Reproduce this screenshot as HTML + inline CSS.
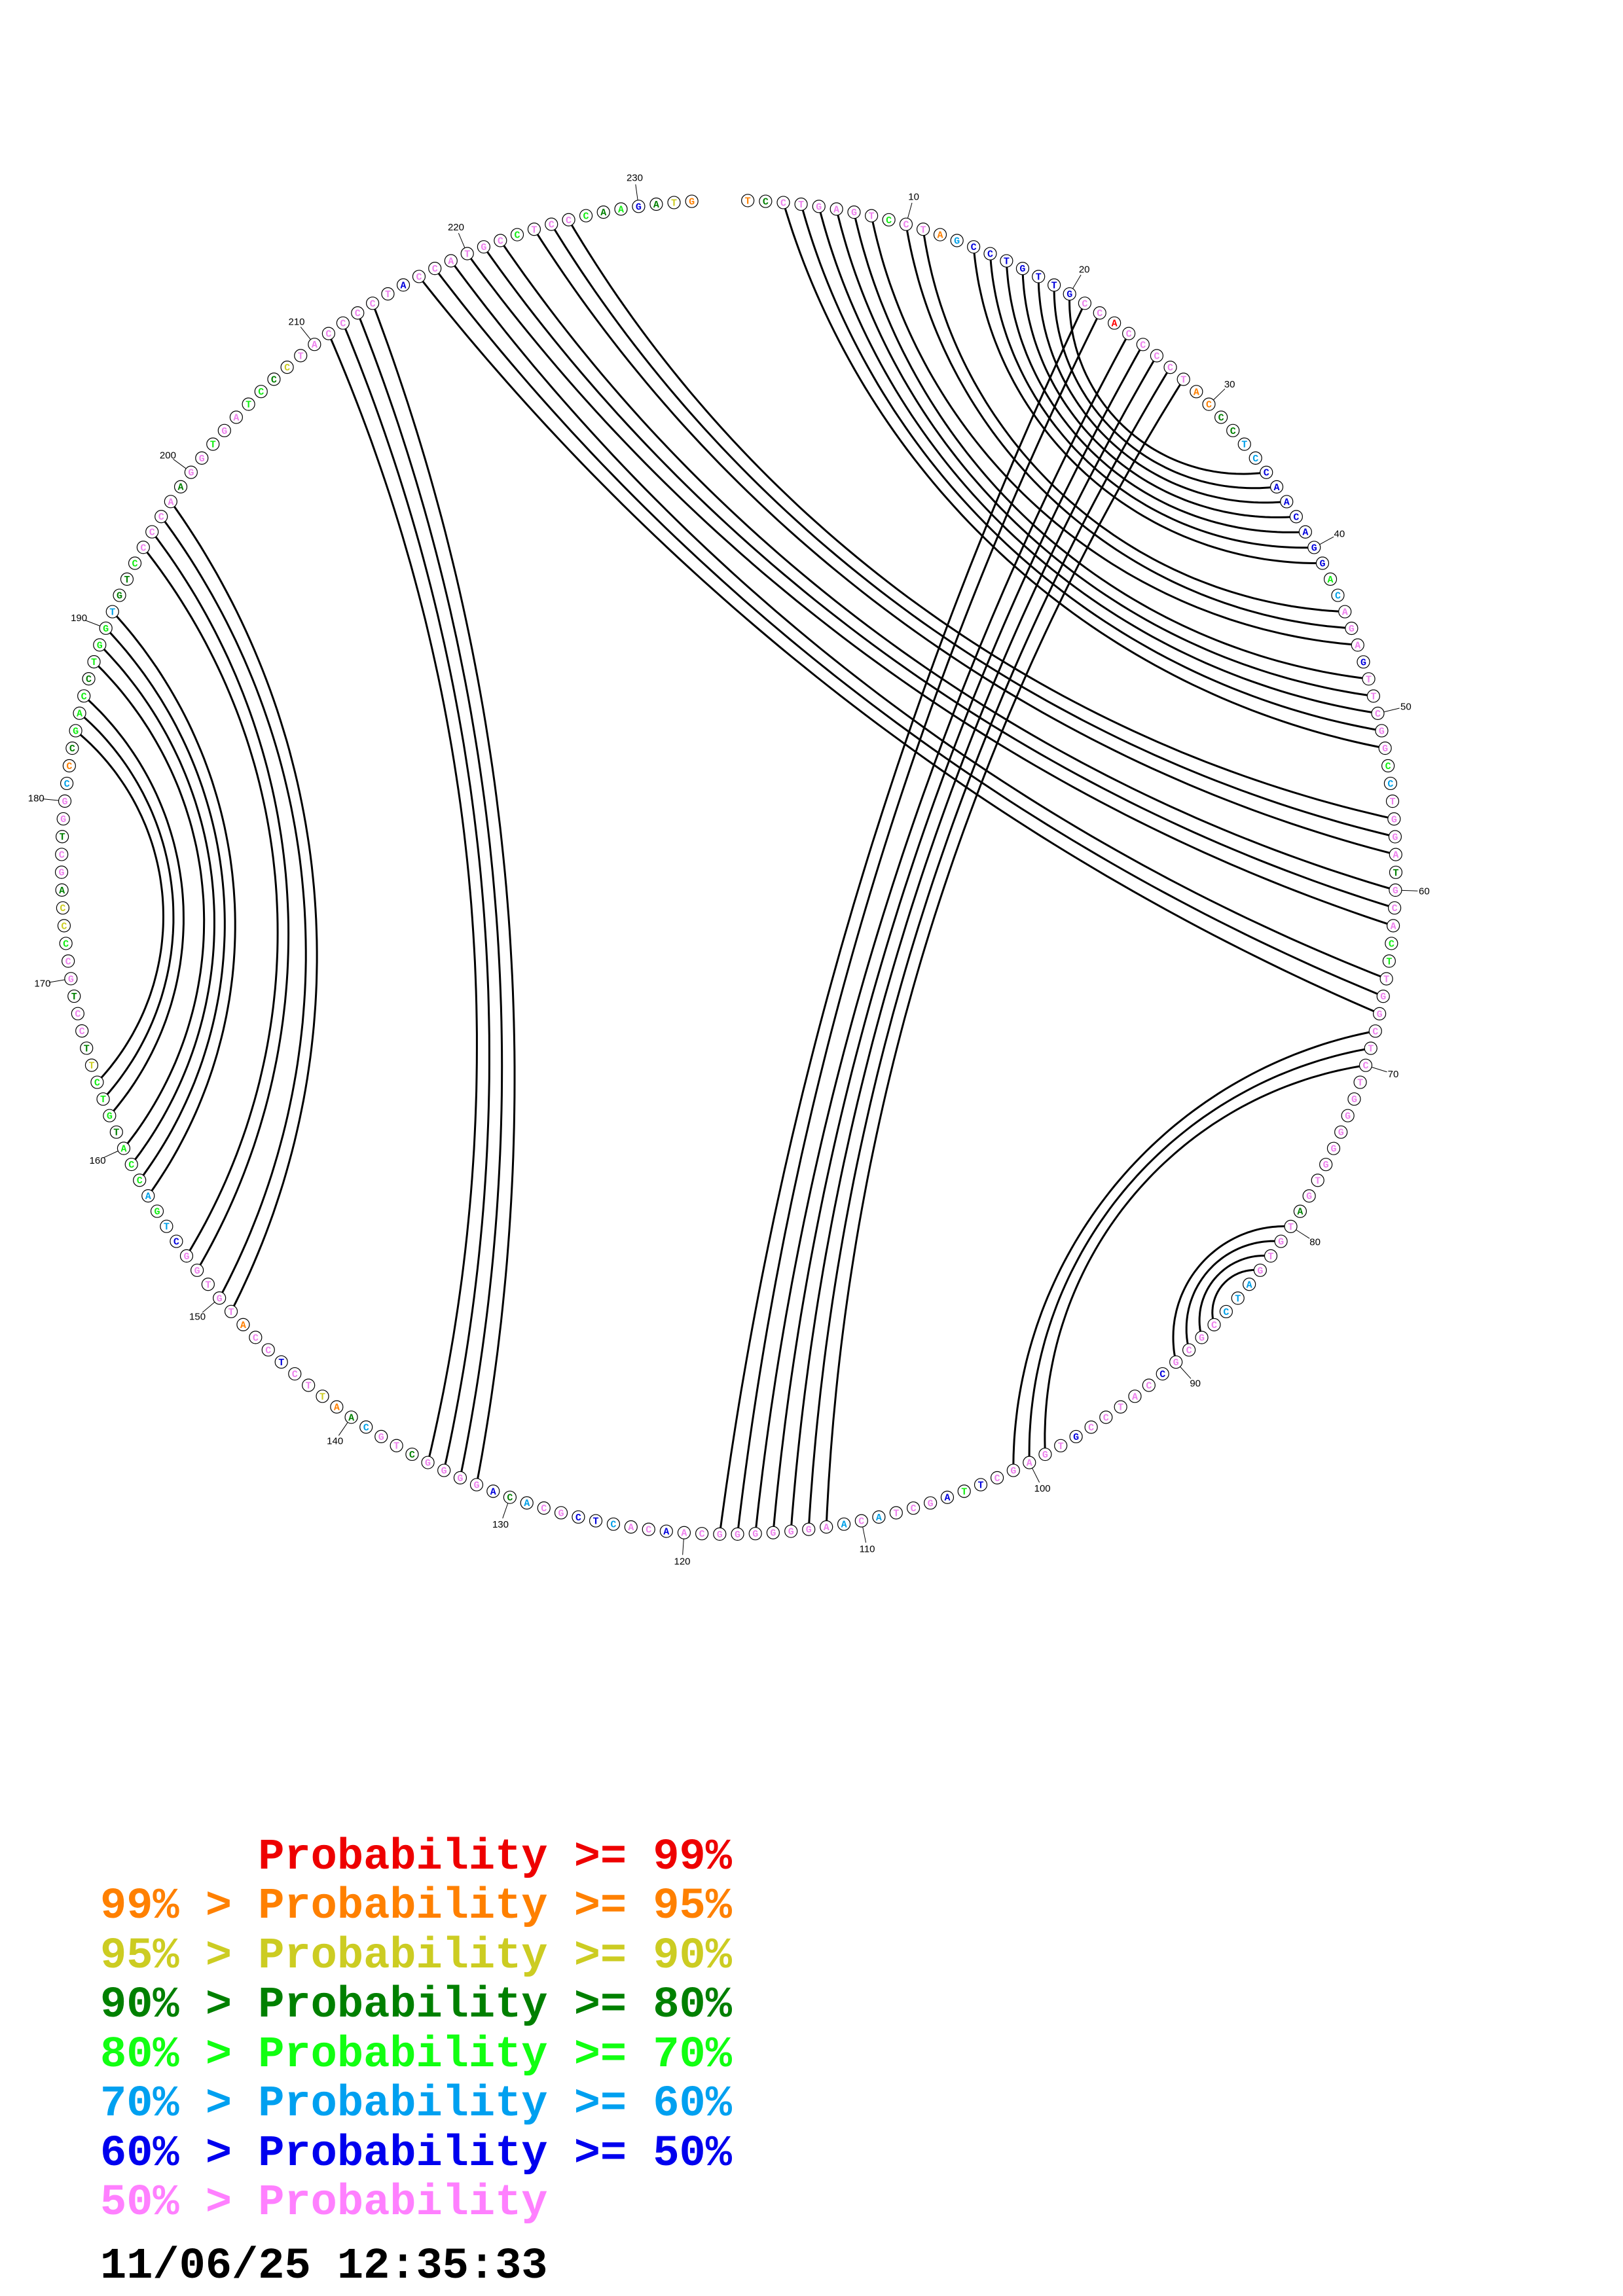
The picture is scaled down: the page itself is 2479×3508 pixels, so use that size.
<!DOCTYPE html>
<html><head><meta charset="utf-8">
<style>
html,body{margin:0;padding:0;background:#fff;}
svg{display:block;}
.n circle{fill:#fff;stroke:#000;stroke-width:1.2;}
.n text{font-family:"Liberation Mono",monospace;font-weight:bold;font-size:15px;text-anchor:middle;}
.p{fill:#ee82ee}.r{fill:#ff0000}.o{fill:#ff8000}.y{fill:#cccc22}.d{fill:#008000}.g{fill:#11ee11}.c{fill:#00a0e8}.b{fill:#0000dd}
.lb line{stroke:#000;stroke-width:1}
.lb text{font-family:"Liberation Sans",sans-serif;font-size:15px;text-anchor:middle;fill:#000}
.lg{font-family:"Liberation Mono",monospace;font-weight:bold;font-size:67px;white-space:pre;}
</style></head>
<body>
<svg width="2479" height="3508" viewBox="0 0 2479 3508" xmlns="http://www.w3.org/2000/svg">
<g id="arcs" fill="none" stroke="#000" stroke-width="3"></g>
<g class="n">
<g><!--k0 off 0-->
<g transform="rotate(1.64 1113 1325) translate(1113 306) rotate(-1.64)"><circle r="9.5"/><text y="5" class="o">T</text></g>
<g transform="rotate(3.17 1113 1325) translate(1113 306) rotate(-3.17)"><circle r="9.5"/><text y="5" class="d">C</text></g>
<g transform="rotate(4.70 1113 1325) translate(1113 306) rotate(-4.70)"><circle r="9.5"/><text y="5" class="p">C</text></g>
<g transform="rotate(6.23 1113 1325) translate(1113 306) rotate(-6.23)"><circle r="9.5"/><text y="5" class="p">T</text></g>
<g transform="rotate(7.77 1113 1325) translate(1113 306) rotate(-7.77)"><circle r="9.5"/><text y="5" class="p">G</text></g>
<g transform="rotate(9.30 1113 1325) translate(1113 306) rotate(-9.30)"><circle r="9.5"/><text y="5" class="p">A</text></g>
<g transform="rotate(10.83 1113 1325) translate(1113 306) rotate(-10.83)"><circle r="9.5"/><text y="5" class="p">G</text></g>
<g transform="rotate(12.36 1113 1325) translate(1113 306) rotate(-12.36)"><circle r="9.5"/><text y="5" class="p">T</text></g>
<g transform="rotate(13.89 1113 1325) translate(1113 306) rotate(-13.89)"><circle r="9.5"/><text y="5" class="g">C</text></g>
<g transform="rotate(15.42 1113 1325) translate(1113 306) rotate(-15.42)"><circle r="9.5"/><text y="5" class="p">C</text></g>
</g>
<g transform="rotate(15.31 1113 1325)">
<g transform="rotate(1.64 1113 1325) translate(1113 306) rotate(-1.64) rotate(-15.31)"><circle r="9.5"/><text y="5" class="p">T</text></g>
<g transform="rotate(3.17 1113 1325) translate(1113 306) rotate(-3.17) rotate(-15.31)"><circle r="9.5"/><text y="5" class="o">A</text></g>
<g transform="rotate(4.70 1113 1325) translate(1113 306) rotate(-4.70) rotate(-15.31)"><circle r="9.5"/><text y="5" class="c">G</text></g>
<g transform="rotate(6.23 1113 1325) translate(1113 306) rotate(-6.23) rotate(-15.31)"><circle r="9.5"/><text y="5" class="b">C</text></g>
<g transform="rotate(7.77 1113 1325) translate(1113 306) rotate(-7.77) rotate(-15.31)"><circle r="9.5"/><text y="5" class="b">C</text></g>
<g transform="rotate(9.30 1113 1325) translate(1113 306) rotate(-9.30) rotate(-15.31)"><circle r="9.5"/><text y="5" class="b">T</text></g>
<g transform="rotate(10.83 1113 1325) translate(1113 306) rotate(-10.83) rotate(-15.31)"><circle r="9.5"/><text y="5" class="b">G</text></g>
<g transform="rotate(12.36 1113 1325) translate(1113 306) rotate(-12.36) rotate(-15.31)"><circle r="9.5"/><text y="5" class="b">T</text></g>
<g transform="rotate(13.89 1113 1325) translate(1113 306) rotate(-13.89) rotate(-15.31)"><circle r="9.5"/><text y="5" class="b">T</text></g>
<g transform="rotate(15.42 1113 1325) translate(1113 306) rotate(-15.42) rotate(-15.31)"><circle r="9.5"/><text y="5" class="b">G</text></g>
</g>
<g transform="rotate(30.62 1113 1325)">
<g transform="rotate(1.64 1113 1325) translate(1113 306) rotate(-1.64) rotate(-30.62)"><circle r="9.5"/><text y="5" class="p">C</text></g>
<g transform="rotate(3.17 1113 1325) translate(1113 306) rotate(-3.17) rotate(-30.62)"><circle r="9.5"/><text y="5" class="p">C</text></g>
<g transform="rotate(4.70 1113 1325) translate(1113 306) rotate(-4.70) rotate(-30.62)"><circle r="9.5"/><text y="5" class="r">A</text></g>
<g transform="rotate(6.23 1113 1325) translate(1113 306) rotate(-6.23) rotate(-30.62)"><circle r="9.5"/><text y="5" class="p">C</text></g>
<g transform="rotate(7.77 1113 1325) translate(1113 306) rotate(-7.77) rotate(-30.62)"><circle r="9.5"/><text y="5" class="p">C</text></g>
<g transform="rotate(9.30 1113 1325) translate(1113 306) rotate(-9.30) rotate(-30.62)"><circle r="9.5"/><text y="5" class="p">C</text></g>
<g transform="rotate(10.83 1113 1325) translate(1113 306) rotate(-10.83) rotate(-30.62)"><circle r="9.5"/><text y="5" class="p">C</text></g>
<g transform="rotate(12.36 1113 1325) translate(1113 306) rotate(-12.36) rotate(-30.62)"><circle r="9.5"/><text y="5" class="p">T</text></g>
<g transform="rotate(13.89 1113 1325) translate(1113 306) rotate(-13.89) rotate(-30.62)"><circle r="9.5"/><text y="5" class="o">A</text></g>
<g transform="rotate(15.42 1113 1325) translate(1113 306) rotate(-15.42) rotate(-30.62)"><circle r="9.5"/><text y="5" class="o">C</text></g>
</g>
<g transform="rotate(45.93 1113 1325)">
<g transform="rotate(1.64 1113 1325) translate(1113 306) rotate(-1.64) rotate(-45.93)"><circle r="9.5"/><text y="5" class="d">C</text></g>
<g transform="rotate(3.17 1113 1325) translate(1113 306) rotate(-3.17) rotate(-45.93)"><circle r="9.5"/><text y="5" class="d">C</text></g>
<g transform="rotate(4.70 1113 1325) translate(1113 306) rotate(-4.70) rotate(-45.93)"><circle r="9.5"/><text y="5" class="c">T</text></g>
<g transform="rotate(6.23 1113 1325) translate(1113 306) rotate(-6.23) rotate(-45.93)"><circle r="9.5"/><text y="5" class="c">C</text></g>
<g transform="rotate(7.77 1113 1325) translate(1113 306) rotate(-7.77) rotate(-45.93)"><circle r="9.5"/><text y="5" class="b">C</text></g>
<g transform="rotate(9.30 1113 1325) translate(1113 306) rotate(-9.30) rotate(-45.93)"><circle r="9.5"/><text y="5" class="b">A</text></g>
<g transform="rotate(10.83 1113 1325) translate(1113 306) rotate(-10.83) rotate(-45.93)"><circle r="9.5"/><text y="5" class="b">A</text></g>
<g transform="rotate(12.36 1113 1325) translate(1113 306) rotate(-12.36) rotate(-45.93)"><circle r="9.5"/><text y="5" class="b">C</text></g>
<g transform="rotate(13.89 1113 1325) translate(1113 306) rotate(-13.89) rotate(-45.93)"><circle r="9.5"/><text y="5" class="b">A</text></g>
<g transform="rotate(15.42 1113 1325) translate(1113 306) rotate(-15.42) rotate(-45.93)"><circle r="9.5"/><text y="5" class="b">G</text></g>
</g>
<g transform="rotate(61.24 1113 1325)">
<g transform="rotate(1.64 1113 1325) translate(1113 306) rotate(-1.64) rotate(-61.24)"><circle r="9.5"/><text y="5" class="b">G</text></g>
<g transform="rotate(3.17 1113 1325) translate(1113 306) rotate(-3.17) rotate(-61.24)"><circle r="9.5"/><text y="5" class="g">A</text></g>
<g transform="rotate(4.70 1113 1325) translate(1113 306) rotate(-4.70) rotate(-61.24)"><circle r="9.5"/><text y="5" class="c">C</text></g>
<g transform="rotate(6.23 1113 1325) translate(1113 306) rotate(-6.23) rotate(-61.24)"><circle r="9.5"/><text y="5" class="p">A</text></g>
<g transform="rotate(7.77 1113 1325) translate(1113 306) rotate(-7.77) rotate(-61.24)"><circle r="9.5"/><text y="5" class="p">G</text></g>
<g transform="rotate(9.30 1113 1325) translate(1113 306) rotate(-9.30) rotate(-61.24)"><circle r="9.5"/><text y="5" class="p">A</text></g>
<g transform="rotate(10.83 1113 1325) translate(1113 306) rotate(-10.83) rotate(-61.24)"><circle r="9.5"/><text y="5" class="b">G</text></g>
<g transform="rotate(12.36 1113 1325) translate(1113 306) rotate(-12.36) rotate(-61.24)"><circle r="9.5"/><text y="5" class="p">T</text></g>
<g transform="rotate(13.89 1113 1325) translate(1113 306) rotate(-13.89) rotate(-61.24)"><circle r="9.5"/><text y="5" class="p">T</text></g>
<g transform="rotate(15.42 1113 1325) translate(1113 306) rotate(-15.42) rotate(-61.24)"><circle r="9.5"/><text y="5" class="p">C</text></g>
</g>
<g transform="rotate(76.55 1113 1325)">
<g transform="rotate(1.64 1113 1325) translate(1113 306) rotate(-1.64) rotate(-76.55)"><circle r="9.5"/><text y="5" class="p">G</text></g>
<g transform="rotate(3.17 1113 1325) translate(1113 306) rotate(-3.17) rotate(-76.55)"><circle r="9.5"/><text y="5" class="p">G</text></g>
<g transform="rotate(4.70 1113 1325) translate(1113 306) rotate(-4.70) rotate(-76.55)"><circle r="9.5"/><text y="5" class="g">C</text></g>
<g transform="rotate(6.23 1113 1325) translate(1113 306) rotate(-6.23) rotate(-76.55)"><circle r="9.5"/><text y="5" class="c">C</text></g>
<g transform="rotate(7.77 1113 1325) translate(1113 306) rotate(-7.77) rotate(-76.55)"><circle r="9.5"/><text y="5" class="p">T</text></g>
<g transform="rotate(9.30 1113 1325) translate(1113 306) rotate(-9.30) rotate(-76.55)"><circle r="9.5"/><text y="5" class="p">G</text></g>
<g transform="rotate(10.83 1113 1325) translate(1113 306) rotate(-10.83) rotate(-76.55)"><circle r="9.5"/><text y="5" class="p">G</text></g>
<g transform="rotate(12.36 1113 1325) translate(1113 306) rotate(-12.36) rotate(-76.55)"><circle r="9.5"/><text y="5" class="p">A</text></g>
<g transform="rotate(13.89 1113 1325) translate(1113 306) rotate(-13.89) rotate(-76.55)"><circle r="9.5"/><text y="5" class="d">T</text></g>
<g transform="rotate(15.42 1113 1325) translate(1113 306) rotate(-15.42) rotate(-76.55)"><circle r="9.5"/><text y="5" class="p">G</text></g>
</g>
<g transform="rotate(91.86 1113 1325)">
<g transform="rotate(1.64 1113 1325) translate(1113 306) rotate(-1.64) rotate(-91.86)"><circle r="9.5"/><text y="5" class="p">C</text></g>
<g transform="rotate(3.17 1113 1325) translate(1113 306) rotate(-3.17) rotate(-91.86)"><circle r="9.5"/><text y="5" class="p">A</text></g>
<g transform="rotate(4.70 1113 1325) translate(1113 306) rotate(-4.70) rotate(-91.86)"><circle r="9.5"/><text y="5" class="g">C</text></g>
<g transform="rotate(6.23 1113 1325) translate(1113 306) rotate(-6.23) rotate(-91.86)"><circle r="9.5"/><text y="5" class="g">T</text></g>
<g transform="rotate(7.77 1113 1325) translate(1113 306) rotate(-7.77) rotate(-91.86)"><circle r="9.5"/><text y="5" class="p">T</text></g>
<g transform="rotate(9.30 1113 1325) translate(1113 306) rotate(-9.30) rotate(-91.86)"><circle r="9.5"/><text y="5" class="p">G</text></g>
<g transform="rotate(10.83 1113 1325) translate(1113 306) rotate(-10.83) rotate(-91.86)"><circle r="9.5"/><text y="5" class="p">G</text></g>
<g transform="rotate(12.36 1113 1325) translate(1113 306) rotate(-12.36) rotate(-91.86)"><circle r="9.5"/><text y="5" class="p">C</text></g>
<g transform="rotate(13.89 1113 1325) translate(1113 306) rotate(-13.89) rotate(-91.86)"><circle r="9.5"/><text y="5" class="p">T</text></g>
<g transform="rotate(15.42 1113 1325) translate(1113 306) rotate(-15.42) rotate(-91.86)"><circle r="9.5"/><text y="5" class="p">C</text></g>
</g>
<g transform="rotate(107.17 1113 1325)">
<g transform="rotate(1.64 1113 1325) translate(1113 306) rotate(-1.64) rotate(-107.17)"><circle r="9.5"/><text y="5" class="p">T</text></g>
<g transform="rotate(3.17 1113 1325) translate(1113 306) rotate(-3.17) rotate(-107.17)"><circle r="9.5"/><text y="5" class="p">G</text></g>
<g transform="rotate(4.70 1113 1325) translate(1113 306) rotate(-4.70) rotate(-107.17)"><circle r="9.5"/><text y="5" class="p">G</text></g>
<g transform="rotate(6.23 1113 1325) translate(1113 306) rotate(-6.23) rotate(-107.17)"><circle r="9.5"/><text y="5" class="p">G</text></g>
<g transform="rotate(7.77 1113 1325) translate(1113 306) rotate(-7.77) rotate(-107.17)"><circle r="9.5"/><text y="5" class="p">G</text></g>
<g transform="rotate(9.30 1113 1325) translate(1113 306) rotate(-9.30) rotate(-107.17)"><circle r="9.5"/><text y="5" class="p">G</text></g>
<g transform="rotate(10.83 1113 1325) translate(1113 306) rotate(-10.83) rotate(-107.17)"><circle r="9.5"/><text y="5" class="p">T</text></g>
<g transform="rotate(12.36 1113 1325) translate(1113 306) rotate(-12.36) rotate(-107.17)"><circle r="9.5"/><text y="5" class="p">G</text></g>
<g transform="rotate(13.89 1113 1325) translate(1113 306) rotate(-13.89) rotate(-107.17)"><circle r="9.5"/><text y="5" class="d">A</text></g>
<g transform="rotate(15.42 1113 1325) translate(1113 306) rotate(-15.42) rotate(-107.17)"><circle r="9.5"/><text y="5" class="p">T</text></g>
</g>
<g transform="rotate(122.48 1113 1325)">
<g transform="rotate(1.64 1113 1325) translate(1113 306) rotate(-1.64) rotate(-122.48)"><circle r="9.5"/><text y="5" class="p">G</text></g>
<g transform="rotate(3.17 1113 1325) translate(1113 306) rotate(-3.17) rotate(-122.48)"><circle r="9.5"/><text y="5" class="p">T</text></g>
<g transform="rotate(4.70 1113 1325) translate(1113 306) rotate(-4.70) rotate(-122.48)"><circle r="9.5"/><text y="5" class="p">G</text></g>
<g transform="rotate(6.23 1113 1325) translate(1113 306) rotate(-6.23) rotate(-122.48)"><circle r="9.5"/><text y="5" class="c">A</text></g>
<g transform="rotate(7.77 1113 1325) translate(1113 306) rotate(-7.77) rotate(-122.48)"><circle r="9.5"/><text y="5" class="c">T</text></g>
<g transform="rotate(9.30 1113 1325) translate(1113 306) rotate(-9.30) rotate(-122.48)"><circle r="9.5"/><text y="5" class="c">C</text></g>
<g transform="rotate(10.83 1113 1325) translate(1113 306) rotate(-10.83) rotate(-122.48)"><circle r="9.5"/><text y="5" class="p">C</text></g>
<g transform="rotate(12.36 1113 1325) translate(1113 306) rotate(-12.36) rotate(-122.48)"><circle r="9.5"/><text y="5" class="p">G</text></g>
<g transform="rotate(13.89 1113 1325) translate(1113 306) rotate(-13.89) rotate(-122.48)"><circle r="9.5"/><text y="5" class="p">C</text></g>
<g transform="rotate(15.42 1113 1325) translate(1113 306) rotate(-15.42) rotate(-122.48)"><circle r="9.5"/><text y="5" class="p">G</text></g>
</g>
<g transform="rotate(137.79 1113 1325)">
<g transform="rotate(1.64 1113 1325) translate(1113 306) rotate(-1.64) rotate(-137.79)"><circle r="9.5"/><text y="5" class="b">C</text></g>
<g transform="rotate(3.17 1113 1325) translate(1113 306) rotate(-3.17) rotate(-137.79)"><circle r="9.5"/><text y="5" class="p">C</text></g>
<g transform="rotate(4.70 1113 1325) translate(1113 306) rotate(-4.70) rotate(-137.79)"><circle r="9.5"/><text y="5" class="p">A</text></g>
<g transform="rotate(6.23 1113 1325) translate(1113 306) rotate(-6.23) rotate(-137.79)"><circle r="9.5"/><text y="5" class="p">T</text></g>
<g transform="rotate(7.77 1113 1325) translate(1113 306) rotate(-7.77) rotate(-137.79)"><circle r="9.5"/><text y="5" class="p">C</text></g>
<g transform="rotate(9.30 1113 1325) translate(1113 306) rotate(-9.30) rotate(-137.79)"><circle r="9.5"/><text y="5" class="p">C</text></g>
<g transform="rotate(10.83 1113 1325) translate(1113 306) rotate(-10.83) rotate(-137.79)"><circle r="9.5"/><text y="5" class="b">G</text></g>
<g transform="rotate(12.36 1113 1325) translate(1113 306) rotate(-12.36) rotate(-137.79)"><circle r="9.5"/><text y="5" class="p">T</text></g>
<g transform="rotate(13.89 1113 1325) translate(1113 306) rotate(-13.89) rotate(-137.79)"><circle r="9.5"/><text y="5" class="p">G</text></g>
<g transform="rotate(15.42 1113 1325) translate(1113 306) rotate(-15.42) rotate(-137.79)"><circle r="9.5"/><text y="5" class="p">A</text></g>
</g>
<g transform="rotate(153.10 1113 1325)">
<g transform="rotate(1.64 1113 1325) translate(1113 306) rotate(-1.64) rotate(-153.10)"><circle r="9.5"/><text y="5" class="p">G</text></g>
<g transform="rotate(3.17 1113 1325) translate(1113 306) rotate(-3.17) rotate(-153.10)"><circle r="9.5"/><text y="5" class="p">C</text></g>
<g transform="rotate(4.70 1113 1325) translate(1113 306) rotate(-4.70) rotate(-153.10)"><circle r="9.5"/><text y="5" class="b">T</text></g>
<g transform="rotate(6.23 1113 1325) translate(1113 306) rotate(-6.23) rotate(-153.10)"><circle r="9.5"/><text y="5" class="g">T</text></g>
<g transform="rotate(7.77 1113 1325) translate(1113 306) rotate(-7.77) rotate(-153.10)"><circle r="9.5"/><text y="5" class="b">A</text></g>
<g transform="rotate(9.30 1113 1325) translate(1113 306) rotate(-9.30) rotate(-153.10)"><circle r="9.5"/><text y="5" class="p">G</text></g>
<g transform="rotate(10.83 1113 1325) translate(1113 306) rotate(-10.83) rotate(-153.10)"><circle r="9.5"/><text y="5" class="p">C</text></g>
<g transform="rotate(12.36 1113 1325) translate(1113 306) rotate(-12.36) rotate(-153.10)"><circle r="9.5"/><text y="5" class="p">T</text></g>
<g transform="rotate(13.89 1113 1325) translate(1113 306) rotate(-13.89) rotate(-153.10)"><circle r="9.5"/><text y="5" class="c">A</text></g>
<g transform="rotate(15.42 1113 1325) translate(1113 306) rotate(-15.42) rotate(-153.10)"><circle r="9.5"/><text y="5" class="p">C</text></g>
</g>
<g transform="rotate(168.41 1113 1325)">
<g transform="rotate(1.64 1113 1325) translate(1113 306) rotate(-1.64) rotate(-168.41)"><circle r="9.5"/><text y="5" class="c">A</text></g>
<g transform="rotate(3.17 1113 1325) translate(1113 306) rotate(-3.17) rotate(-168.41)"><circle r="9.5"/><text y="5" class="p">A</text></g>
<g transform="rotate(4.70 1113 1325) translate(1113 306) rotate(-4.70) rotate(-168.41)"><circle r="9.5"/><text y="5" class="p">G</text></g>
<g transform="rotate(6.23 1113 1325) translate(1113 306) rotate(-6.23) rotate(-168.41)"><circle r="9.5"/><text y="5" class="p">G</text></g>
<g transform="rotate(7.77 1113 1325) translate(1113 306) rotate(-7.77) rotate(-168.41)"><circle r="9.5"/><text y="5" class="p">G</text></g>
<g transform="rotate(9.30 1113 1325) translate(1113 306) rotate(-9.30) rotate(-168.41)"><circle r="9.5"/><text y="5" class="p">G</text></g>
<g transform="rotate(10.83 1113 1325) translate(1113 306) rotate(-10.83) rotate(-168.41)"><circle r="9.5"/><text y="5" class="p">G</text></g>
<g transform="rotate(12.36 1113 1325) translate(1113 306) rotate(-12.36) rotate(-168.41)"><circle r="9.5"/><text y="5" class="p">G</text></g>
<g transform="rotate(13.89 1113 1325) translate(1113 306) rotate(-13.89) rotate(-168.41)"><circle r="9.5"/><text y="5" class="p">C</text></g>
<g transform="rotate(15.42 1113 1325) translate(1113 306) rotate(-15.42) rotate(-168.41)"><circle r="9.5"/><text y="5" class="p">A</text></g>
</g>
<g transform="rotate(183.72 1113 1325)">
<g transform="rotate(1.64 1113 1325) translate(1113 306) rotate(-1.64) rotate(-183.72)"><circle r="9.5"/><text y="5" class="b">A</text></g>
<g transform="rotate(3.17 1113 1325) translate(1113 306) rotate(-3.17) rotate(-183.72)"><circle r="9.5"/><text y="5" class="p">C</text></g>
<g transform="rotate(4.70 1113 1325) translate(1113 306) rotate(-4.70) rotate(-183.72)"><circle r="9.5"/><text y="5" class="p">A</text></g>
<g transform="rotate(6.23 1113 1325) translate(1113 306) rotate(-6.23) rotate(-183.72)"><circle r="9.5"/><text y="5" class="c">C</text></g>
<g transform="rotate(7.77 1113 1325) translate(1113 306) rotate(-7.77) rotate(-183.72)"><circle r="9.5"/><text y="5" class="b">T</text></g>
<g transform="rotate(9.30 1113 1325) translate(1113 306) rotate(-9.30) rotate(-183.72)"><circle r="9.5"/><text y="5" class="b">C</text></g>
<g transform="rotate(10.83 1113 1325) translate(1113 306) rotate(-10.83) rotate(-183.72)"><circle r="9.5"/><text y="5" class="p">G</text></g>
<g transform="rotate(12.36 1113 1325) translate(1113 306) rotate(-12.36) rotate(-183.72)"><circle r="9.5"/><text y="5" class="p">C</text></g>
<g transform="rotate(13.89 1113 1325) translate(1113 306) rotate(-13.89) rotate(-183.72)"><circle r="9.5"/><text y="5" class="c">A</text></g>
<g transform="rotate(15.42 1113 1325) translate(1113 306) rotate(-15.42) rotate(-183.72)"><circle r="9.5"/><text y="5" class="d">C</text></g>
</g>
<g transform="rotate(199.03 1113 1325)">
<g transform="rotate(1.64 1113 1325) translate(1113 306) rotate(-1.64) rotate(-199.03)"><circle r="9.5"/><text y="5" class="b">A</text></g>
<g transform="rotate(3.17 1113 1325) translate(1113 306) rotate(-3.17) rotate(-199.03)"><circle r="9.5"/><text y="5" class="p">G</text></g>
<g transform="rotate(4.70 1113 1325) translate(1113 306) rotate(-4.70) rotate(-199.03)"><circle r="9.5"/><text y="5" class="p">G</text></g>
<g transform="rotate(6.23 1113 1325) translate(1113 306) rotate(-6.23) rotate(-199.03)"><circle r="9.5"/><text y="5" class="p">G</text></g>
<g transform="rotate(7.77 1113 1325) translate(1113 306) rotate(-7.77) rotate(-199.03)"><circle r="9.5"/><text y="5" class="p">G</text></g>
<g transform="rotate(9.30 1113 1325) translate(1113 306) rotate(-9.30) rotate(-199.03)"><circle r="9.5"/><text y="5" class="d">C</text></g>
<g transform="rotate(10.83 1113 1325) translate(1113 306) rotate(-10.83) rotate(-199.03)"><circle r="9.5"/><text y="5" class="p">T</text></g>
<g transform="rotate(12.36 1113 1325) translate(1113 306) rotate(-12.36) rotate(-199.03)"><circle r="9.5"/><text y="5" class="p">G</text></g>
<g transform="rotate(13.89 1113 1325) translate(1113 306) rotate(-13.89) rotate(-199.03)"><circle r="9.5"/><text y="5" class="c">C</text></g>
<g transform="rotate(15.42 1113 1325) translate(1113 306) rotate(-15.42) rotate(-199.03)"><circle r="9.5"/><text y="5" class="d">A</text></g>
</g>
<g transform="rotate(214.34 1113 1325)">
<g transform="rotate(1.64 1113 1325) translate(1113 306) rotate(-1.64) rotate(-214.34)"><circle r="9.5"/><text y="5" class="o">A</text></g>
<g transform="rotate(3.17 1113 1325) translate(1113 306) rotate(-3.17) rotate(-214.34)"><circle r="9.5"/><text y="5" class="y">T</text></g>
<g transform="rotate(4.70 1113 1325) translate(1113 306) rotate(-4.70) rotate(-214.34)"><circle r="9.5"/><text y="5" class="p">T</text></g>
<g transform="rotate(6.23 1113 1325) translate(1113 306) rotate(-6.23) rotate(-214.34)"><circle r="9.5"/><text y="5" class="p">C</text></g>
<g transform="rotate(7.77 1113 1325) translate(1113 306) rotate(-7.77) rotate(-214.34)"><circle r="9.5"/><text y="5" class="b">T</text></g>
<g transform="rotate(9.30 1113 1325) translate(1113 306) rotate(-9.30) rotate(-214.34)"><circle r="9.5"/><text y="5" class="p">C</text></g>
<g transform="rotate(10.83 1113 1325) translate(1113 306) rotate(-10.83) rotate(-214.34)"><circle r="9.5"/><text y="5" class="p">C</text></g>
<g transform="rotate(12.36 1113 1325) translate(1113 306) rotate(-12.36) rotate(-214.34)"><circle r="9.5"/><text y="5" class="o">A</text></g>
<g transform="rotate(13.89 1113 1325) translate(1113 306) rotate(-13.89) rotate(-214.34)"><circle r="9.5"/><text y="5" class="p">T</text></g>
<g transform="rotate(15.42 1113 1325) translate(1113 306) rotate(-15.42) rotate(-214.34)"><circle r="9.5"/><text y="5" class="p">G</text></g>
</g>
<g transform="rotate(229.65 1113 1325)">
<g transform="rotate(1.64 1113 1325) translate(1113 306) rotate(-1.64) rotate(-229.65)"><circle r="9.5"/><text y="5" class="p">T</text></g>
<g transform="rotate(3.17 1113 1325) translate(1113 306) rotate(-3.17) rotate(-229.65)"><circle r="9.5"/><text y="5" class="p">G</text></g>
<g transform="rotate(4.70 1113 1325) translate(1113 306) rotate(-4.70) rotate(-229.65)"><circle r="9.5"/><text y="5" class="p">G</text></g>
<g transform="rotate(6.23 1113 1325) translate(1113 306) rotate(-6.23) rotate(-229.65)"><circle r="9.5"/><text y="5" class="b">C</text></g>
<g transform="rotate(7.77 1113 1325) translate(1113 306) rotate(-7.77) rotate(-229.65)"><circle r="9.5"/><text y="5" class="c">T</text></g>
<g transform="rotate(9.30 1113 1325) translate(1113 306) rotate(-9.30) rotate(-229.65)"><circle r="9.5"/><text y="5" class="g">G</text></g>
<g transform="rotate(10.83 1113 1325) translate(1113 306) rotate(-10.83) rotate(-229.65)"><circle r="9.5"/><text y="5" class="c">A</text></g>
<g transform="rotate(12.36 1113 1325) translate(1113 306) rotate(-12.36) rotate(-229.65)"><circle r="9.5"/><text y="5" class="g">C</text></g>
<g transform="rotate(13.89 1113 1325) translate(1113 306) rotate(-13.89) rotate(-229.65)"><circle r="9.5"/><text y="5" class="g">C</text></g>
<g transform="rotate(15.42 1113 1325) translate(1113 306) rotate(-15.42) rotate(-229.65)"><circle r="9.5"/><text y="5" class="g">A</text></g>
</g>
<g transform="rotate(244.96 1113 1325)">
<g transform="rotate(1.64 1113 1325) translate(1113 306) rotate(-1.64) rotate(-244.96)"><circle r="9.5"/><text y="5" class="d">T</text></g>
<g transform="rotate(3.17 1113 1325) translate(1113 306) rotate(-3.17) rotate(-244.96)"><circle r="9.5"/><text y="5" class="g">G</text></g>
<g transform="rotate(4.70 1113 1325) translate(1113 306) rotate(-4.70) rotate(-244.96)"><circle r="9.5"/><text y="5" class="g">T</text></g>
<g transform="rotate(6.23 1113 1325) translate(1113 306) rotate(-6.23) rotate(-244.96)"><circle r="9.5"/><text y="5" class="g">C</text></g>
<g transform="rotate(7.77 1113 1325) translate(1113 306) rotate(-7.77) rotate(-244.96)"><circle r="9.5"/><text y="5" class="y">T</text></g>
<g transform="rotate(9.30 1113 1325) translate(1113 306) rotate(-9.30) rotate(-244.96)"><circle r="9.5"/><text y="5" class="d">T</text></g>
<g transform="rotate(10.83 1113 1325) translate(1113 306) rotate(-10.83) rotate(-244.96)"><circle r="9.5"/><text y="5" class="p">C</text></g>
<g transform="rotate(12.36 1113 1325) translate(1113 306) rotate(-12.36) rotate(-244.96)"><circle r="9.5"/><text y="5" class="p">C</text></g>
<g transform="rotate(13.89 1113 1325) translate(1113 306) rotate(-13.89) rotate(-244.96)"><circle r="9.5"/><text y="5" class="d">T</text></g>
<g transform="rotate(15.42 1113 1325) translate(1113 306) rotate(-15.42) rotate(-244.96)"><circle r="9.5"/><text y="5" class="p">G</text></g>
</g>
<g transform="rotate(260.27 1113 1325)">
<g transform="rotate(1.64 1113 1325) translate(1113 306) rotate(-1.64) rotate(-260.27)"><circle r="9.5"/><text y="5" class="p">C</text></g>
<g transform="rotate(3.17 1113 1325) translate(1113 306) rotate(-3.17) rotate(-260.27)"><circle r="9.5"/><text y="5" class="g">C</text></g>
<g transform="rotate(4.70 1113 1325) translate(1113 306) rotate(-4.70) rotate(-260.27)"><circle r="9.5"/><text y="5" class="y">C</text></g>
<g transform="rotate(6.23 1113 1325) translate(1113 306) rotate(-6.23) rotate(-260.27)"><circle r="9.5"/><text y="5" class="y">C</text></g>
<g transform="rotate(7.77 1113 1325) translate(1113 306) rotate(-7.77) rotate(-260.27)"><circle r="9.5"/><text y="5" class="d">A</text></g>
<g transform="rotate(9.30 1113 1325) translate(1113 306) rotate(-9.30) rotate(-260.27)"><circle r="9.5"/><text y="5" class="p">G</text></g>
<g transform="rotate(10.83 1113 1325) translate(1113 306) rotate(-10.83) rotate(-260.27)"><circle r="9.5"/><text y="5" class="p">C</text></g>
<g transform="rotate(12.36 1113 1325) translate(1113 306) rotate(-12.36) rotate(-260.27)"><circle r="9.5"/><text y="5" class="d">T</text></g>
<g transform="rotate(13.89 1113 1325) translate(1113 306) rotate(-13.89) rotate(-260.27)"><circle r="9.5"/><text y="5" class="p">G</text></g>
<g transform="rotate(15.42 1113 1325) translate(1113 306) rotate(-15.42) rotate(-260.27)"><circle r="9.5"/><text y="5" class="p">G</text></g>
</g>
<g transform="rotate(275.58 1113 1325)">
<g transform="rotate(1.64 1113 1325) translate(1113 306) rotate(-1.64) rotate(-275.58)"><circle r="9.5"/><text y="5" class="c">C</text></g>
<g transform="rotate(3.17 1113 1325) translate(1113 306) rotate(-3.17) rotate(-275.58)"><circle r="9.5"/><text y="5" class="o">C</text></g>
<g transform="rotate(4.70 1113 1325) translate(1113 306) rotate(-4.70) rotate(-275.58)"><circle r="9.5"/><text y="5" class="d">C</text></g>
<g transform="rotate(6.23 1113 1325) translate(1113 306) rotate(-6.23) rotate(-275.58)"><circle r="9.5"/><text y="5" class="g">G</text></g>
<g transform="rotate(7.77 1113 1325) translate(1113 306) rotate(-7.77) rotate(-275.58)"><circle r="9.5"/><text y="5" class="g">A</text></g>
<g transform="rotate(9.30 1113 1325) translate(1113 306) rotate(-9.30) rotate(-275.58)"><circle r="9.5"/><text y="5" class="g">C</text></g>
<g transform="rotate(10.83 1113 1325) translate(1113 306) rotate(-10.83) rotate(-275.58)"><circle r="9.5"/><text y="5" class="d">C</text></g>
<g transform="rotate(12.36 1113 1325) translate(1113 306) rotate(-12.36) rotate(-275.58)"><circle r="9.5"/><text y="5" class="g">T</text></g>
<g transform="rotate(13.89 1113 1325) translate(1113 306) rotate(-13.89) rotate(-275.58)"><circle r="9.5"/><text y="5" class="g">G</text></g>
<g transform="rotate(15.42 1113 1325) translate(1113 306) rotate(-15.42) rotate(-275.58)"><circle r="9.5"/><text y="5" class="g">G</text></g>
</g>
<g transform="rotate(290.89 1113 1325)">
<g transform="rotate(1.64 1113 1325) translate(1113 306) rotate(-1.64) rotate(-290.89)"><circle r="9.5"/><text y="5" class="c">T</text></g>
<g transform="rotate(3.17 1113 1325) translate(1113 306) rotate(-3.17) rotate(-290.89)"><circle r="9.5"/><text y="5" class="d">G</text></g>
<g transform="rotate(4.70 1113 1325) translate(1113 306) rotate(-4.70) rotate(-290.89)"><circle r="9.5"/><text y="5" class="d">T</text></g>
<g transform="rotate(6.23 1113 1325) translate(1113 306) rotate(-6.23) rotate(-290.89)"><circle r="9.5"/><text y="5" class="g">C</text></g>
<g transform="rotate(7.77 1113 1325) translate(1113 306) rotate(-7.77) rotate(-290.89)"><circle r="9.5"/><text y="5" class="p">C</text></g>
<g transform="rotate(9.30 1113 1325) translate(1113 306) rotate(-9.30) rotate(-290.89)"><circle r="9.5"/><text y="5" class="p">C</text></g>
<g transform="rotate(10.83 1113 1325) translate(1113 306) rotate(-10.83) rotate(-290.89)"><circle r="9.5"/><text y="5" class="p">C</text></g>
<g transform="rotate(12.36 1113 1325) translate(1113 306) rotate(-12.36) rotate(-290.89)"><circle r="9.5"/><text y="5" class="p">A</text></g>
<g transform="rotate(13.89 1113 1325) translate(1113 306) rotate(-13.89) rotate(-290.89)"><circle r="9.5"/><text y="5" class="d">A</text></g>
<g transform="rotate(15.42 1113 1325) translate(1113 306) rotate(-15.42) rotate(-290.89)"><circle r="9.5"/><text y="5" class="p">G</text></g>
</g>
<g transform="rotate(306.20 1113 1325)">
<g transform="rotate(1.64 1113 1325) translate(1113 306) rotate(-1.64) rotate(-306.20)"><circle r="9.5"/><text y="5" class="p">G</text></g>
<g transform="rotate(3.17 1113 1325) translate(1113 306) rotate(-3.17) rotate(-306.20)"><circle r="9.5"/><text y="5" class="g">T</text></g>
<g transform="rotate(4.70 1113 1325) translate(1113 306) rotate(-4.70) rotate(-306.20)"><circle r="9.5"/><text y="5" class="p">G</text></g>
<g transform="rotate(6.23 1113 1325) translate(1113 306) rotate(-6.23) rotate(-306.20)"><circle r="9.5"/><text y="5" class="p">A</text></g>
<g transform="rotate(7.77 1113 1325) translate(1113 306) rotate(-7.77) rotate(-306.20)"><circle r="9.5"/><text y="5" class="g">T</text></g>
<g transform="rotate(9.30 1113 1325) translate(1113 306) rotate(-9.30) rotate(-306.20)"><circle r="9.5"/><text y="5" class="g">C</text></g>
<g transform="rotate(10.83 1113 1325) translate(1113 306) rotate(-10.83) rotate(-306.20)"><circle r="9.5"/><text y="5" class="d">C</text></g>
<g transform="rotate(12.36 1113 1325) translate(1113 306) rotate(-12.36) rotate(-306.20)"><circle r="9.5"/><text y="5" class="y">C</text></g>
<g transform="rotate(13.89 1113 1325) translate(1113 306) rotate(-13.89) rotate(-306.20)"><circle r="9.5"/><text y="5" class="p">T</text></g>
<g transform="rotate(15.42 1113 1325) translate(1113 306) rotate(-15.42) rotate(-306.20)"><circle r="9.5"/><text y="5" class="p">A</text></g>
</g>
<g transform="rotate(321.51 1113 1325)">
<g transform="rotate(1.64 1113 1325) translate(1113 306) rotate(-1.64) rotate(-321.51)"><circle r="9.5"/><text y="5" class="p">C</text></g>
<g transform="rotate(3.17 1113 1325) translate(1113 306) rotate(-3.17) rotate(-321.51)"><circle r="9.5"/><text y="5" class="p">C</text></g>
<g transform="rotate(4.70 1113 1325) translate(1113 306) rotate(-4.70) rotate(-321.51)"><circle r="9.5"/><text y="5" class="p">C</text></g>
<g transform="rotate(6.23 1113 1325) translate(1113 306) rotate(-6.23) rotate(-321.51)"><circle r="9.5"/><text y="5" class="p">C</text></g>
<g transform="rotate(7.77 1113 1325) translate(1113 306) rotate(-7.77) rotate(-321.51)"><circle r="9.5"/><text y="5" class="p">T</text></g>
<g transform="rotate(9.30 1113 1325) translate(1113 306) rotate(-9.30) rotate(-321.51)"><circle r="9.5"/><text y="5" class="b">A</text></g>
<g transform="rotate(10.83 1113 1325) translate(1113 306) rotate(-10.83) rotate(-321.51)"><circle r="9.5"/><text y="5" class="p">C</text></g>
<g transform="rotate(12.36 1113 1325) translate(1113 306) rotate(-12.36) rotate(-321.51)"><circle r="9.5"/><text y="5" class="p">C</text></g>
<g transform="rotate(13.89 1113 1325) translate(1113 306) rotate(-13.89) rotate(-321.51)"><circle r="9.5"/><text y="5" class="p">A</text></g>
<g transform="rotate(15.42 1113 1325) translate(1113 306) rotate(-15.42) rotate(-321.51)"><circle r="9.5"/><text y="5" class="p">T</text></g>
</g>
<g transform="rotate(336.82 1113 1325)">
<g transform="rotate(1.64 1113 1325) translate(1113 306) rotate(-1.64) rotate(-336.82)"><circle r="9.5"/><text y="5" class="p">G</text></g>
<g transform="rotate(3.17 1113 1325) translate(1113 306) rotate(-3.17) rotate(-336.82)"><circle r="9.5"/><text y="5" class="p">C</text></g>
<g transform="rotate(4.70 1113 1325) translate(1113 306) rotate(-4.70) rotate(-336.82)"><circle r="9.5"/><text y="5" class="g">C</text></g>
<g transform="rotate(6.23 1113 1325) translate(1113 306) rotate(-6.23) rotate(-336.82)"><circle r="9.5"/><text y="5" class="p">T</text></g>
<g transform="rotate(7.77 1113 1325) translate(1113 306) rotate(-7.77) rotate(-336.82)"><circle r="9.5"/><text y="5" class="p">C</text></g>
<g transform="rotate(9.30 1113 1325) translate(1113 306) rotate(-9.30) rotate(-336.82)"><circle r="9.5"/><text y="5" class="p">C</text></g>
<g transform="rotate(10.83 1113 1325) translate(1113 306) rotate(-10.83) rotate(-336.82)"><circle r="9.5"/><text y="5" class="g">C</text></g>
<g transform="rotate(12.36 1113 1325) translate(1113 306) rotate(-12.36) rotate(-336.82)"><circle r="9.5"/><text y="5" class="d">A</text></g>
<g transform="rotate(13.89 1113 1325) translate(1113 306) rotate(-13.89) rotate(-336.82)"><circle r="9.5"/><text y="5" class="g">A</text></g>
<g transform="rotate(15.42 1113 1325) translate(1113 306) rotate(-15.42) rotate(-336.82)"><circle r="9.5"/><text y="5" class="b">G</text></g>
</g>
<g transform="rotate(352.13 1113 1325)">
<g transform="rotate(1.64 1113 1325) translate(1113 306) rotate(-1.64) rotate(-352.13)"><circle r="9.5"/><text y="5" class="d">A</text></g>
<g transform="rotate(3.17 1113 1325) translate(1113 306) rotate(-3.17) rotate(-352.13)"><circle r="9.5"/><text y="5" class="y">T</text></g>
<g transform="rotate(4.70 1113 1325) translate(1113 306) rotate(-4.70) rotate(-352.13)"><circle r="9.5"/><text y="5" class="o">G</text></g>
</g>
</g>
<g class="lb">
<g transform="rotate(15.42 1113 1325)"><line x1="1113" y1="296" x2="1113" y2="272"/><text transform="translate(1113 262) rotate(-15.42)" y="5">10</text></g>
<g transform="rotate(30.73 1113 1325)"><line x1="1113" y1="296" x2="1113" y2="272"/><text transform="translate(1113 262) rotate(-30.73)" y="5">20</text></g>
<g transform="rotate(46.04 1113 1325)"><line x1="1113" y1="296" x2="1113" y2="272"/><text transform="translate(1113 262) rotate(-46.04)" y="5">30</text></g>
<g transform="rotate(61.35 1113 1325)"><line x1="1113" y1="296" x2="1113" y2="272"/><text transform="translate(1113 262) rotate(-61.35)" y="5">40</text></g>
<g transform="rotate(76.66 1113 1325)"><line x1="1113" y1="296" x2="1113" y2="272"/><text transform="translate(1113 262) rotate(-76.66)" y="5">50</text></g>
<g transform="rotate(91.97 1113 1325)"><line x1="1113" y1="296" x2="1113" y2="272"/><text transform="translate(1113 262) rotate(-91.97)" y="5">60</text></g>
<g transform="rotate(107.28 1113 1325)"><line x1="1113" y1="296" x2="1113" y2="272"/><text transform="translate(1113 262) rotate(-107.28)" y="5">70</text></g>
<g transform="rotate(122.59 1113 1325)"><line x1="1113" y1="296" x2="1113" y2="272"/><text transform="translate(1113 262) rotate(-122.59)" y="5">80</text></g>
<g transform="rotate(137.90 1113 1325)"><line x1="1113" y1="296" x2="1113" y2="272"/><text transform="translate(1113 262) rotate(-137.90)" y="5">90</text></g>
<g transform="rotate(153.21 1113 1325)"><line x1="1113" y1="296" x2="1113" y2="272"/><text transform="translate(1113 262) rotate(-153.21)" y="5">100</text></g>
<g transform="rotate(168.52 1113 1325)"><line x1="1113" y1="296" x2="1113" y2="272"/><text transform="translate(1113 262) rotate(-168.52)" y="5">110</text></g>
<g transform="rotate(183.83 1113 1325)"><line x1="1113" y1="296" x2="1113" y2="272"/><text transform="translate(1113 262) rotate(-183.83)" y="5">120</text></g>
<g transform="rotate(199.14 1113 1325)"><line x1="1113" y1="296" x2="1113" y2="272"/><text transform="translate(1113 262) rotate(-199.14)" y="5">130</text></g>
<g transform="rotate(214.45 1113 1325)"><line x1="1113" y1="296" x2="1113" y2="272"/><text transform="translate(1113 262) rotate(-214.45)" y="5">140</text></g>
<g transform="rotate(229.76 1113 1325)"><line x1="1113" y1="296" x2="1113" y2="272"/><text transform="translate(1113 262) rotate(-229.76)" y="5">150</text></g>
<g transform="rotate(245.07 1113 1325)"><line x1="1113" y1="296" x2="1113" y2="272"/><text transform="translate(1113 262) rotate(-245.07)" y="5">160</text></g>
<g transform="rotate(260.38 1113 1325)"><line x1="1113" y1="296" x2="1113" y2="272"/><text transform="translate(1113 262) rotate(-260.38)" y="5">170</text></g>
<g transform="rotate(275.69 1113 1325)"><line x1="1113" y1="296" x2="1113" y2="272"/><text transform="translate(1113 262) rotate(-275.69)" y="5">180</text></g>
<g transform="rotate(291.00 1113 1325)"><line x1="1113" y1="296" x2="1113" y2="272"/><text transform="translate(1113 262) rotate(-291.00)" y="5">190</text></g>
<g transform="rotate(306.31 1113 1325)"><line x1="1113" y1="296" x2="1113" y2="272"/><text transform="translate(1113 262) rotate(-306.31)" y="5">200</text></g>
<g transform="rotate(321.62 1113 1325)"><line x1="1113" y1="296" x2="1113" y2="272"/><text transform="translate(1113 262) rotate(-321.62)" y="5">210</text></g>
<g transform="rotate(336.93 1113 1325)"><line x1="1113" y1="296" x2="1113" y2="272"/><text transform="translate(1113 262) rotate(-336.93)" y="5">220</text></g>
<g transform="rotate(352.24 1113 1325)"><line x1="1113" y1="296" x2="1113" y2="272"/><text transform="translate(1113 262) rotate(-352.24)" y="5">230</text></g>
</g>
<g class="lg">
<text x="153" y="2855" fill="#ee0000" xml:space="preserve">      Probability &gt;= 99%</text>
<text x="153" y="2930" fill="#ff8000" xml:space="preserve">99% &gt; Probability &gt;= 95%</text>
<text x="153" y="3006" fill="#cccc22" xml:space="preserve">95% &gt; Probability &gt;= 90%</text>
<text x="153" y="3081" fill="#008000" xml:space="preserve">90% &gt; Probability &gt;= 80%</text>
<text x="153" y="3157" fill="#11ff11" xml:space="preserve">80% &gt; Probability &gt;= 70%</text>
<text x="153" y="3232" fill="#00a0f0" xml:space="preserve">70% &gt; Probability &gt;= 60%</text>
<text x="153" y="3308" fill="#0000ee" xml:space="preserve">60% &gt; Probability &gt;= 50%</text>
<text x="153" y="3383" fill="#ff80ff" xml:space="preserve">50% &gt; Probability</text>
<text x="153" y="3480" fill="#000" xml:space="preserve">11/06/25 12:35:33</text>
</g>
</svg>
<script>
(function(){
var cx=1113,cy=1325,R=1019;
function pt(i){var a=(0.11+1.531*i)*Math.PI/180;return [cx+R*Math.sin(a),cy-R*Math.cos(a)];}
var pairs=[[20,35],[19,36],[18,37],[17,38],[16,39],[15,40],[14,41],[11,44],[10,45],[8,46],[7,48],[6,49],[5,50],[4,51],[3,52],
[21,118],[22,117],[24,116],[25,115],[26,114],[27,113],[28,112],
[217,67],[218,66],[219,65],[220,62],[221,61],[222,60],[224,58],[225,57],[226,56],
[211,135],[212,134],[213,133],[214,132],
[195,153],[196,152],[197,150],[198,149],
[184,164],[185,163],[186,162],[188,160],[189,159],[190,158],[191,157],
[68,101],[69,100],[70,99],
[80,90],[81,89],[82,88],[83,87]];
var g=document.getElementById('arcs'),ns='http://www.w3.org/2000/svg';
function nrm(x){var t=2*Math.PI;while(x<0)x+=t;while(x>=t)x-=t;return x;}
pairs.forEach(function(p){
 var A=pt(p[0]),B=pt(p[1]);
 var mx=(A[0]+B[0])/2,my=(A[1]+B[1])/2,vx=mx-cx,vy=my-cy,L=Math.hypot(vx,vy);
 var ux,uy; if(L<1e-3){ux=0;uy=-1;L=0.001;}else{ux=vx/L;uy=vy/L;}
 var cm=L/R, sh=Math.hypot(B[0]-A[0],B[1]-A[1])/2/R;
 var orth=(1-sh)/Math.max(cm,1e-6);
 var D=cm-0.57*(cm-orth);
 var M=[cx+ux*D*R,cy+uy*D*R];
 var ax=A[0],ay=A[1],bx=M[0],by=M[1],qx=B[0],qy=B[1];
 var d=2*(ax*(by-qy)+bx*(qy-ay)+qx*(ay-by));
 var path;
 if(Math.abs(d)<1e-6){path='M'+ax+' '+ay+' L'+qx+' '+qy;}
 else{
  var a2=ax*ax+ay*ay,b2=bx*bx+by*by,q2=qx*qx+qy*qy;
  var ox=(a2*(by-qy)+b2*(qy-ay)+q2*(ay-by))/d, oy=(a2*(qx-bx)+b2*(ax-qx)+q2*(bx-ax))/d;
  var r=Math.hypot(ax-ox,ay-oy);
  var t0=Math.atan2(ay-oy,ax-ox),tm=Math.atan2(by-oy,bx-ox),t2=Math.atan2(qy-oy,qx-ox);
  var d2=nrm(t2-t0),dm=nrm(tm-t0),sw=(dm<d2)?d2:d2-2*Math.PI;
  var N=80;path='';
  for(var k=0;k<=N;k++){var t=t0+sw*k/N;path+=(k?' L':'M')+(ox+r*Math.cos(t)).toFixed(1)+' '+(oy+r*Math.sin(t)).toFixed(1);}
 }
 var e=document.createElementNS(ns,'path');e.setAttribute('d',path);g.appendChild(e);
});
})();
</script>
</body></html>
